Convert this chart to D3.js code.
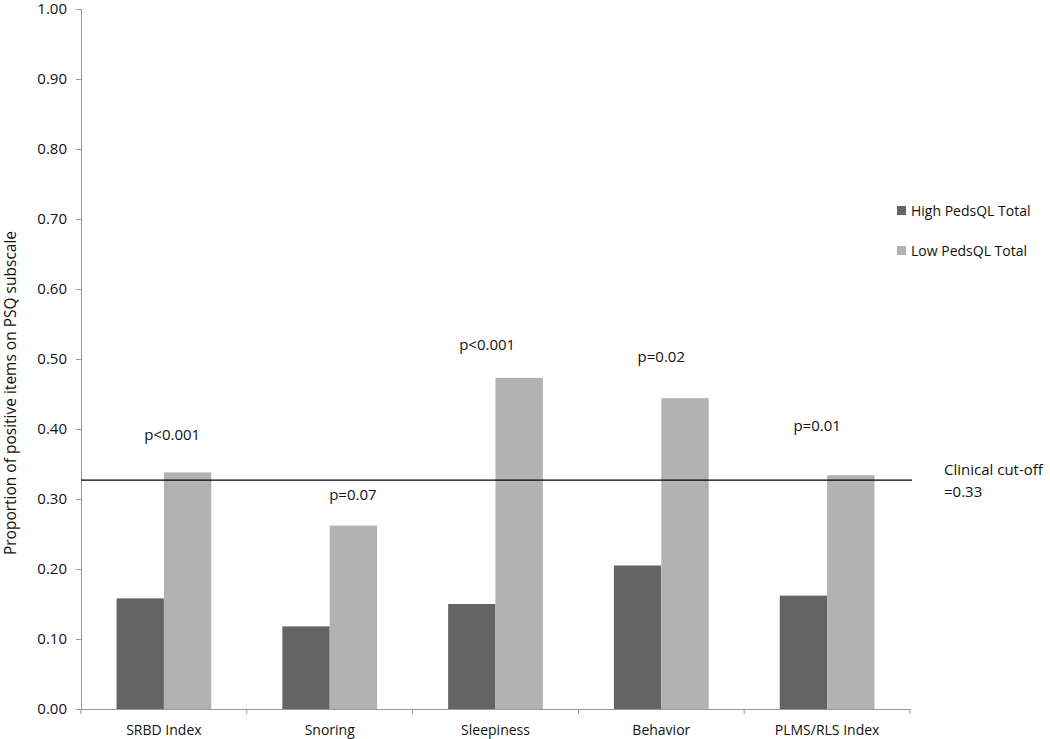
<!DOCTYPE html>
<html>
<head>
<meta charset="utf-8">
<script src="https://d3js.org/d3.v7.min.js"></script>
<style>
  body { margin: 0; background: white; }
  text { font-family: "Open Sans", "Noto Sans", sans-serif; fill: #111; }
</style>
</head>
<body>
<script>
var categories = ["SRBD Index", "Snoring", "Sleepiness", "Behavior", "PLMS/RLS Index"];
var highValues = [0.158, 0.118, 0.150, 0.205, 0.162];
var lowValues = [0.338, 0.262, 0.473, 0.444, 0.334];
var pLabels = ["p<0.001", "p=0.07", "p<0.001", "p=0.02", "p=0.01"];
var pLabelY = [0.385, 0.298, 0.513, 0.496, 0.397];
var pLabelX = [0.05, 0.14, -0.05, 0.0, -0.06];   // offset in band fraction
var seriesNames = ["High PedsQL Total", "Low PedsQL Total"];
var seriesColors = ["#646464", "#b2b2b2"];
var cutoff = 0.327;
var yTicks = [0, 0.1, 0.2, 0.3, 0.4, 0.5, 0.6, 0.7, 0.8, 0.9, 1.0];

var width = 1050, height = 739;
var margin = {left: 81, right: 140, top: 9, bottom: 30};

var svg = d3.select("body").append("svg")
  .attr("width", width)
  .attr("height", height);

var x = d3.scaleBand()
  .domain(categories)
  .range([margin.left, 910])
  .paddingInner(0)
  .paddingOuter(0);

var xInner = d3.scaleBand()
  .domain([0, 1])
  .range([0, x.bandwidth()])
  .paddingOuter(0.75)
  .paddingInner(0);

var y = d3.scaleLinear()
  .domain([0, 1])
  .range([709, margin.top]);

// y axis
var yAxis = svg.append("g")
  .attr("transform", "translate(" + margin.left + ",0)")
  .call(d3.axisLeft(y).tickValues(yTicks).tickFormat(d3.format(".2f")).tickSize(5).tickPadding(9));
yAxis.select(".domain").attr("stroke", "#999");
yAxis.selectAll(".tick line").attr("stroke", "#999");
yAxis.selectAll("text").attr("font-size", 15).style("fill", "#111");

// bars
var rows = categories.map(function(c, i) { return {cat: c, vals: [highValues[i], lowValues[i]]}; });
var groups = svg.append("g").selectAll("g")
  .data(rows)
  .enter().append("g")
  .attr("transform", function(d) { return "translate(" + x(d.cat) + ",0)"; });

groups.selectAll("rect")
  .data(function(d) { return d.vals; })
  .enter().append("rect")
  .attr("x", function(d, i) { return xInner(i); })
  .attr("width", xInner.bandwidth())
  .attr("y", function(d) { return y(d); })
  .attr("height", function(d) { return y(0) - y(d); })
  .attr("fill", function(d, i) { return seriesColors[i]; });

// x axis
var xAxis = svg.append("g")
  .attr("transform", "translate(0," + y(0) + ")")
  .call(d3.axisBottom(x).tickSize(0).tickPadding(16));
xAxis.select(".domain").attr("stroke", "#999");
xAxis.selectAll("text").attr("font-size", 14).style("fill", "#111");
// tick marks at band boundaries
var bounds = categories.map(function(c) { return x(c); }).concat([x.range()[1]]);
xAxis.selectAll(".bound")
  .data(bounds)
  .enter().append("line")
  .attr("x1", function(d) { return d; })
  .attr("x2", function(d) { return d; })
  .attr("y1", 0).attr("y2", 5)
  .attr("stroke", "#999");

// cutoff line
svg.append("line")
  .attr("x1", margin.left)
  .attr("x2", 912)
  .attr("y1", y(cutoff))
  .attr("y2", y(cutoff))
  .attr("stroke", "#000")
  .attr("stroke-width", 1.3);

svg.append("text")
  .attr("x", 944).attr("y", y(cutoff) - 5)
  .attr("font-size", 15)
  .text("Clinical cut-off");
svg.append("text")
  .attr("x", 944).attr("y", y(cutoff) + 17)
  .attr("font-size", 15)
  .text("=0.33");

// p-value labels
svg.append("g").selectAll("text")
  .data(rows)
  .enter().append("text")
  .attr("x", function(d, i) { return x(d.cat) + x.bandwidth() * (0.5 + pLabelX[i]); })
  .attr("y", function(d, i) { return y(pLabelY[i]); })
  .attr("text-anchor", "middle")
  .attr("font-size", 15)
  .text(function(d, i) { return pLabels[i]; });

// legend
var legend = svg.append("g").selectAll("g")
  .data(seriesNames)
  .enter().append("g")
  .attr("transform", function(d, i) { return "translate(897," + (206 + i * 40) + ")"; });
legend.append("rect")
  .attr("width", 9).attr("height", 9)
  .attr("fill", function(d, i) { return seriesColors[i]; });
legend.append("text")
  .attr("x", 14).attr("y", 10)
  .attr("font-size", 14)
  .text(function(d) { return d; });

// y axis title
svg.append("text")
  .attr("transform", "translate(16,393) rotate(-90)")
  .attr("text-anchor", "middle")
  .attr("font-size", 15.5)
  .text("Proportion of positive items on PSQ subscale");
</script>
</body>
</html>
